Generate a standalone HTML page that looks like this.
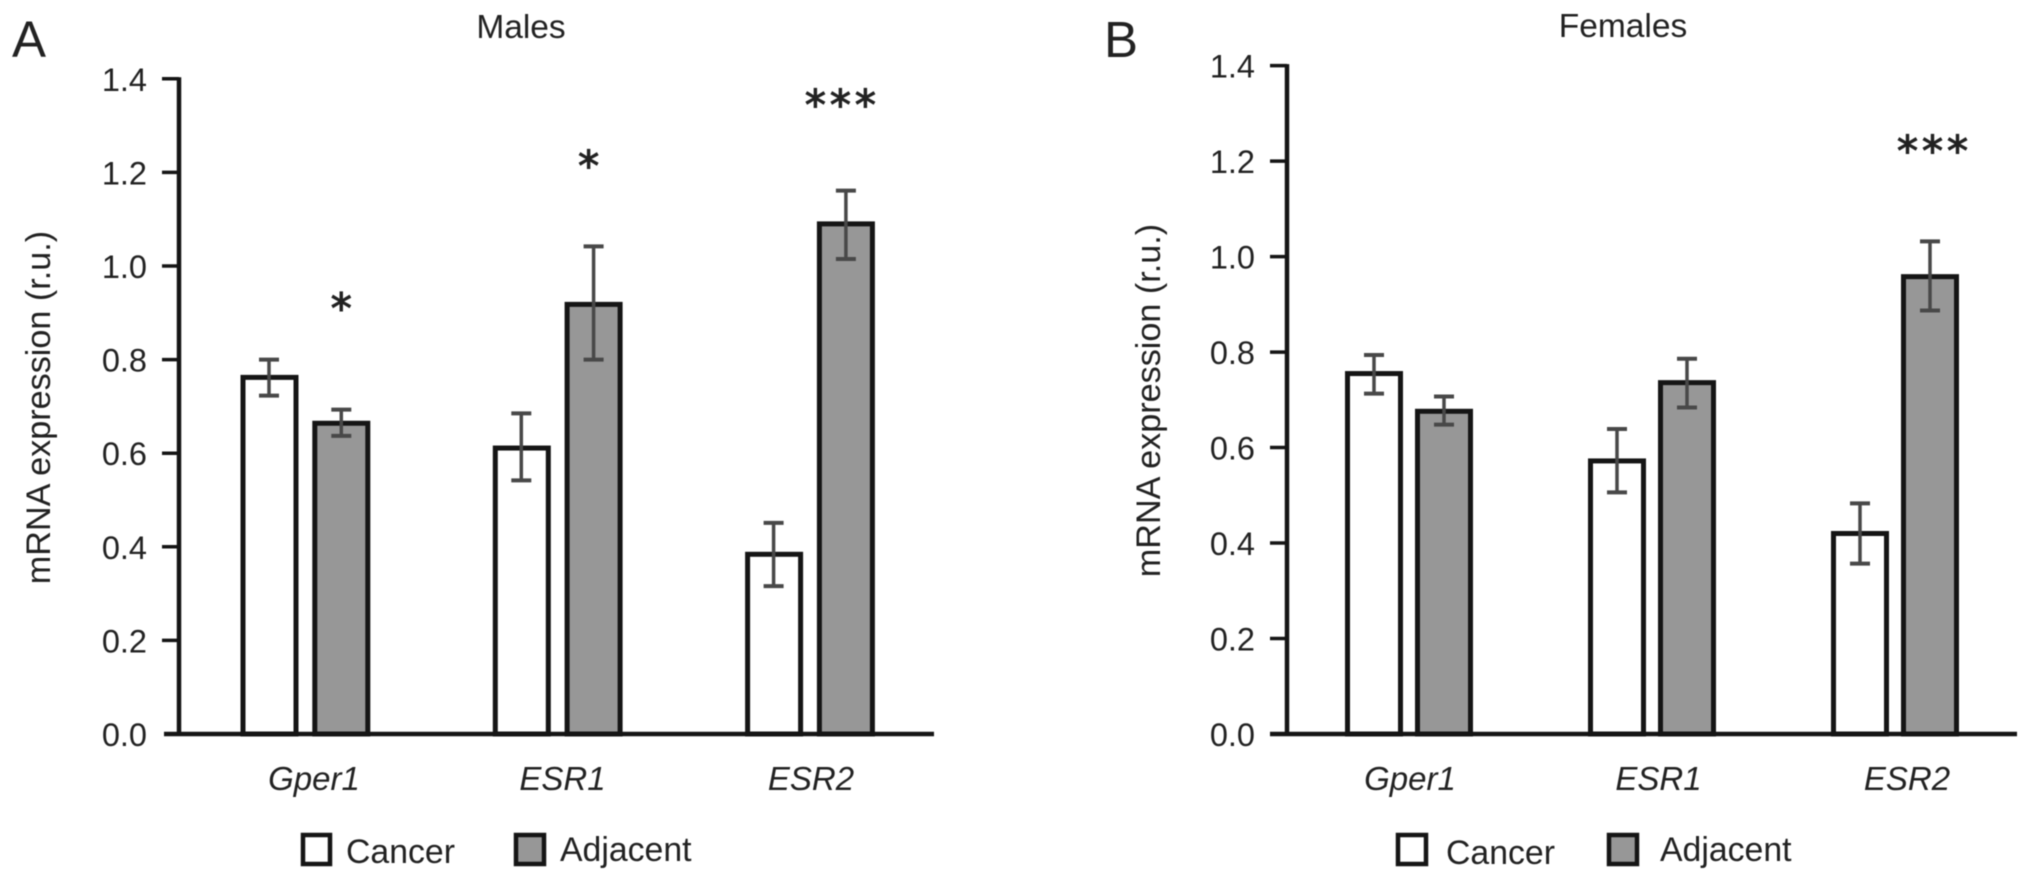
<!DOCTYPE html>
<html lang="en">
<head>
<meta charset="utf-8">
<title>mRNA expression in males and females</title>
<style>
html,body{margin:0;padding:0;background:#fff;width:2032px;height:881px;overflow:hidden}
svg{display:block;filter:blur(.55px)}
text{font-family:"Liberation Sans",Arial,sans-serif;fill:#222}
</style>
</head>
<body>
<svg id="chart" xmlns="http://www.w3.org/2000/svg" width="2032" height="881" viewBox="0 0 2032 881">
  <rect width="2032" height="881" fill="#fff"/>
  <text x="12" y="57" font-size="51">A</text>
  <text x="1104" y="57" font-size="51">B</text>
  <text x="521" y="38" font-size="33.5" text-anchor="middle">Males</text>
  <text x="1623" y="37" font-size="33.5" text-anchor="middle">Females</text>
  <text transform="translate(50 407.5) rotate(-90)" font-size="34.2" text-anchor="middle">mRNA expression (r.u.)</text>
  <text transform="translate(1160 400.5) rotate(-90)" font-size="34.2" text-anchor="middle">mRNA expression (r.u.)</text>

  <g>
    <rect x="303" y="835" width="27" height="29" fill="#fff" stroke="#151515" stroke-width="4.5"/>
    <text x="346" y="863" font-size="33.8">Cancer</text>
    <rect x="516" y="835" width="28" height="29" fill="#979797" stroke="#151515" stroke-width="4.5"/>
    <text x="560" y="861" font-size="33.8">Adjacent</text>
  </g>
  <g>
    <rect x="1398" y="835" width="28" height="29" fill="#fff" stroke="#151515" stroke-width="4.5"/>
    <text x="1446" y="864" font-size="33.8">Cancer</text>
    <rect x="1609" y="835" width="28" height="29" fill="#979797" stroke="#151515" stroke-width="4.5"/>
    <text x="1660" y="861" font-size="33.8">Adjacent</text>
  </g>
  <g id="plots"></g>
</svg>
<script>
const categories = ['Gper1', 'ESR1', 'ESR2'];
const tickValues = [0, 0.2, 0.4, 0.6, 0.8, 1.0, 1.2, 1.4];
const tickLabels = ['0.0', '0.2', '0.4', '0.6', '0.8', '1.0', '1.2', '1.4'];

const maleCancer = [0.762, 0.611, 0.384];
const maleCancerUpper = [0.800, 0.685, 0.451];
const maleCancerLower = [0.723, 0.542, 0.316];
const maleAdjacent = [0.664, 0.918, 1.090];
const maleAdjacentUpper = [0.693, 1.042, 1.161];
const maleAdjacentLower = [0.637, 0.800, 1.015];
const maleStars = ['*', '*', '***'];
const maleStarLevels = [0.923, 1.228, 1.358];

const femaleCancer = [0.755, 0.572, 0.420];
const femaleCancerUpper = [0.794, 0.639, 0.483];
const femaleCancerLower = [0.713, 0.506, 0.357];
const femaleAdjacent = [0.676, 0.736, 0.958];
const femaleAdjacentUpper = [0.707, 0.786, 1.032];
const femaleAdjacentLower = [0.648, 0.684, 0.887];
const femaleStars = ['', '', '***'];
const femaleStarLevels = [0, 0, 1.235];

const NS = 'http://www.w3.org/2000/svg';
const root = document.getElementById('plots');

function make(tag, attrs, parent) {
  const el = document.createElementNS(NS, tag);
  for (const key in attrs) el.setAttribute(key, attrs[key]);
  parent.appendChild(el);
  return el;
}

function drawErrorBar(g, x, top, bottom, capHalf) {
  const stem = make('line', {x1: x, x2: x, y1: top, y2: bottom, stroke: '#484848', 'stroke-width': 3.5}, g);
  
  
  const capTop = make('line', {x1: x - capHalf, x2: x + capHalf, y1: top, y2: top, stroke: '#484848', 'stroke-width': 4}, g);
  
  
  const capBottom = make('line', {x1: x - capHalf, x2: x + capHalf, y1: bottom, y2: bottom, stroke: '#484848', 'stroke-width': 4}, g);
  
  
}

function drawPanel(p) {
  const yScale = v => p.y0 - v * p.yUnit;
  const groupX = i => p.groupStart + i * p.groupStep;
  const labelX = i => p.labelStart + i * p.labelStep;
  const g = make('g', {}, root);
  
  

  categories.forEach((cat, i) => {
    const cx = groupX(i) - p.barOffset;
    const ax = groupX(i) + p.barOffset;
    const cancerBar = make('rect', {x: cx - p.barW / 2, y: yScale(p.cancer[i]), width: p.barW, height: p.y0 - yScale(p.cancer[i]), fill: '#fff', stroke: '#151515', 'stroke-width': 5}, g);
    
    
    const adjacentBar = make('rect', {x: ax - p.barW / 2, y: yScale(p.adjacent[i]), width: p.barW, height: p.y0 - yScale(p.adjacent[i]), fill: '#979797', stroke: '#151515', 'stroke-width': 5}, g);
    
    
    drawErrorBar(g, cx + p.errShift, yScale(p.cancerUpper[i]), yScale(p.cancerLower[i]), 10);
    drawErrorBar(g, ax, yScale(p.adjacentUpper[i]), yScale(p.adjacentLower[i]), 10);

    const label = make('text', {x: labelX(i), y: 790, 'font-size': 33, 'font-style': 'italic', 'text-anchor': 'middle'}, g);
    label.textContent = cat;
    
    

    [...p.stars[i]].forEach((ch, k, all) => {
      const star = make('text', {x: ax + p.starShift[i] + (k - (all.length - 1) / 2) * 25, y: yScale(p.starLevels[i]) + 21, 'font-size': 42, 'text-anchor': 'middle', stroke: '#222', 'stroke-width': 1.1}, g);
      star.style.fontFamily = '"DejaVu Sans", sans-serif';
      star.textContent = ch;
      
      
    });
  });

  const yAxis = make('line', {x1: p.axisX, x2: p.axisX, y1: yScale(1.4) - 1.5, y2: p.y0, stroke: '#151515', 'stroke-width': 4.5}, g);
  
  
  const xAxis = make('line', {x1: p.xStart, x2: p.xEnd, y1: p.y0, y2: p.y0, stroke: '#151515', 'stroke-width': 4.5}, g);
  
  

  tickValues.forEach((v, i) => {
    if (v > 0) {
      const tick = make('line', {x1: p.axisX - 17, x2: p.axisX, y1: yScale(v), y2: yScale(v), stroke: '#151515', 'stroke-width': 3.5}, g);
      
      
    }
    const text = make('text', {x: p.labelRight, y: yScale(v) + 12, 'font-size': 32.5, 'text-anchor': 'end'}, g);
    text.textContent = tickLabels[i];
    
    
  });
}

drawPanel({
  name: 'males', axisX: 179, xStart: 164, xEnd: 934, y0: 734, yUnit: 468,
  groupStart: 305.4, groupStep: 252.3, barOffset: 35.9, barW: 53, errShift: -0.5,
  labelStart: 314, labelStep: 248.5, labelRight: 147, starShift: [0, -5, -5.5],
  cancer: maleCancer, cancerUpper: maleCancerUpper, cancerLower: maleCancerLower,
  adjacent: maleAdjacent, adjacentUpper: maleAdjacentUpper, adjacentLower: maleAdjacentLower,
  stars: maleStars, starLevels: maleStarLevels
});
drawPanel({
  name: 'females', axisX: 1287, xStart: 1270, xEnd: 2017, y0: 734, yUnit: 477.4,
  groupStart: 1409, groupStep: 243, barOffset: 35, barW: 53, errShift: 0,
  labelStart: 1410, labelStep: 248.5, labelRight: 1255, starShift: [0, 0, 2.5],
  cancer: femaleCancer, cancerUpper: femaleCancerUpper, cancerLower: femaleCancerLower,
  adjacent: femaleAdjacent, adjacentUpper: femaleAdjacentUpper, adjacentLower: femaleAdjacentLower,
  stars: femaleStars, starLevels: femaleStarLevels
});
</script>
</body>
</html>
